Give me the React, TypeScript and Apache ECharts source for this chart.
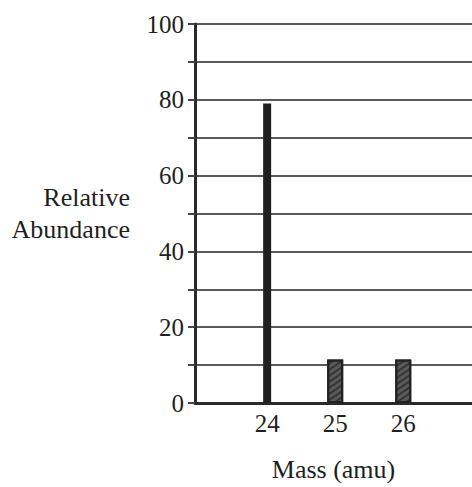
import React, { useEffect, useRef } from "react";
import * as echarts from "echarts";

const massLabels = [24, 25, 26];
const mainPeak = [[24, 79]];
const minorPeaks = [
  [25, 11.5],
  [26, 11.5],
];
const yTicks = [0, 20, 40, 60, 80, 100];

const FONT = "Times New Roman, Liberation Serif, DejaVu Serif, serif";
const TEXT = "#1f1f1f";

export default function App() {
  const ref = useRef<HTMLDivElement>(null);
  useEffect(() => {
    if (!ref.current) return;
    const chart = echarts.init(ref.current, null, { renderer: "svg" });
    const xCommon = {
      type: "value" as const,
      min: 22.94,
      max: 27.01,
      splitLine: { show: false },
      axisTick: { show: false },
    };
    chart.setOption({
      animation: false,
      backgroundColor: "#ffffff",
      textStyle: { fontFamily: FONT },
      grid: { left: 195, right: 0, top: 24, bottom: 80, containLabel: false },
      xAxis: [
        {
          ...xCommon,
          name: "Mass (amu)",
          nameLocation: "middle",
          nameGap: 66,
          nameTextStyle: {
            fontFamily: FONT,
            fontSize: 26,
            color: TEXT,
            verticalAlign: "middle",
          },
          axisLine: { show: true, lineStyle: { color: "#2a2a2a", width: 3 } },
          axisLabel: {
            customValues: massLabels,
            fontFamily: FONT,
            fontSize: 25,
            color: TEXT,
            margin: 8,
          },
        },
        {
          ...xCommon,
          position: "bottom",
          show: false,
        },
      ],
      yAxis: {
        type: "value",
        min: 0,
        max: 100,
        interval: 10,
        name: "Relative\nAbundance",
        nameLocation: "middle",
        nameRotate: 0,
        nameGap: 65,
        nameTextStyle: {
          fontFamily: FONT,
          fontSize: 26,
          color: TEXT,
          align: "right",
          verticalAlign: "middle",
          lineHeight: 32,
          padding: [0, 0, 17, 0],
        },
        axisLine: { show: true, lineStyle: { color: "#2a2a2a", width: 3 } },
        axisTick: {
          show: true,
          length: 7,
          lineStyle: { color: "#444", width: 2 },
        },
        axisLabel: {
          customValues: yTicks,
          fontFamily: FONT,
          fontSize: 25,
          color: TEXT,
          margin: 11,
        },
        splitLine: { show: true, lineStyle: { color: "#5a5a5a", width: 2 } },
      },
      series: [
        {
          type: "bar",
          xAxisIndex: 0,
          data: mainPeak,
          barWidth: 8,
          itemStyle: { color: "#1f1f1f" },
          z: 3,
        },
        {
          type: "bar",
          xAxisIndex: 1,
          data: minorPeaks,
          barWidth: 16,
          itemStyle: {
            color: "#5a5a5a",
            borderColor: "#222",
            borderWidth: 2,
            decal: {
              symbol: "rect",
              dashArrayX: [1, 0],
              dashArrayY: [2, 3],
              rotation: -0.6,
              color: "rgba(20,20,20,0.55)",
            },
          },
          z: 3,
        },
      ],
    });
    return () => chart.dispose();
  }, []);
  return (
    <div
      ref={ref}
      style={{ position: "absolute", left: 0, top: 0, width: 472, height: 487 }}
    />
  );
}
